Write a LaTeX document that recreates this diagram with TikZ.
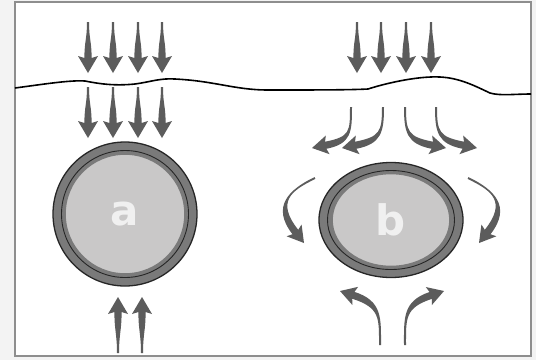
\documentclass[tikz,border=0pt]{standalone}
\usepackage{fontspec}
\setsansfont{DejaVu Sans}
\usetikzlibrary{shapes.geometric}
\definecolor{arrowgray}{HTML}{5C5C5C}
\definecolor{ringgray}{HTML}{7A7A7A}
\definecolor{fillgray}{HTML}{C9C8C8}
\definecolor{framegray}{HTML}{8E8E8E}
\definecolor{outergray}{HTML}{F3F3F3}
\tikzset{
  flowfill/.style={fill=arrowgray},
  ringouter/.style={fill=ringgray, draw=black!85, line width=1.3pt},
  ringline/.style={draw=black!85, line width=0.9pt},
  core/.style={fill=fillgray, draw=ringgray, line width=1.6pt},
  letter/.style={text=white!94!black, font=\sffamily\bfseries\fontsize{42}{42}\selectfont}
}
% tapered arrow along a cubic curve: start, control 1, control 2, tip
\newcommand{\tpArrow}[8]{%
  \pgfmathsetmacro\tpAx{#3-#1}\pgfmathsetmacro\tpAy{#4-#2}%
  \pgfmathsetmacro\tpAl{veclen(\tpAx,\tpAy)}%
  \pgfmathsetmacro\tpNax{-\tpAy/\tpAl}\pgfmathsetmacro\tpNay{\tpAx/\tpAl}%
  \pgfmathsetmacro\tpBx{#7-#5}\pgfmathsetmacro\tpBy{#8-#6}%
  \pgfmathsetmacro\tpBl{veclen(\tpBx,\tpBy)}%
  \pgfmathsetmacro\tpUx{\tpBx/\tpBl}\pgfmathsetmacro\tpUy{\tpBy/\tpBl}%
  \pgfmathsetmacro\tpNbx{-\tpUy}\pgfmathsetmacro\tpNby{\tpUx}%
  \pgfmathsetmacro\tpHx{#7-\tpHL*\tpUx}\pgfmathsetmacro\tpHy{#8-\tpHL*\tpUy}%
  \pgfmathsetmacro\tpCx{#5-\tpHL*\tpUx}\pgfmathsetmacro\tpCy{#6-\tpHL*\tpUy}%
  \fill[flowfill]
    ({#1+\tpWa*\tpNax},{#2+\tpWa*\tpNay})
    .. controls ({#3+\tpWa*\tpNax},{#4+\tpWa*\tpNay})
    and ({\tpCx+\tpWb*\tpNbx},{\tpCy+\tpWb*\tpNby})
    .. ({\tpHx+\tpWb*\tpNbx},{\tpHy+\tpWb*\tpNby})
    -- ({\tpHx+\tpHW*\tpNbx-2*\tpUx},{\tpHy+\tpHW*\tpNby-2*\tpUy})
    -- (#7,#8)
    -- ({\tpHx-\tpHW*\tpNbx-2*\tpUx},{\tpHy-\tpHW*\tpNby-2*\tpUy})
    -- ({\tpHx-\tpWb*\tpNbx},{\tpHy-\tpWb*\tpNby})
    .. controls ({\tpCx-\tpWb*\tpNbx},{\tpCy-\tpWb*\tpNby})
    and ({#3-\tpWa*\tpNax},{#4-\tpWa*\tpNay})
    .. ({#1-\tpWa*\tpNax},{#2-\tpWa*\tpNay}) -- cycle;%
}
\newcommand{\tpDown}[3]{% x, top, tip (straight)
  \pgfmathsetmacro\tpMa{#2+(#3-#2)/3}\pgfmathsetmacro\tpMb{#2+2*(#3-#2)/3}%
  \tpArrow{#1}{#2}{#1}{\tpMa}{#1}{\tpMb}{#1}{#3}}
\def\tpHL{15}\def\tpHW{10}\def\tpWa{1}\def\tpWb{3.6}
\begin{document}
\begin{tikzpicture}[x=1pt,y=-1pt]
\useasboundingbox (0,0) rectangle (536,360);
\fill[outergray] (0,0) rectangle (536,360);
\draw[framegray, fill=white, line width=2pt] (15,2) rectangle (531,356);
% surface line
\draw[black, line width=1.6pt]
  (15,88) .. controls (45,84) and (70,80) .. (85,81)
  .. controls (100,84) and (115,86) .. (135,84)
  .. controls (150,82) and (160,78) .. (175,79)
  .. controls (215,81) and (235,90) .. (268,90)
  .. controls (310,90) and (350,90) .. (368,89)
  .. controls (390,82) and (420,76) .. (440,77)
  .. controls (460,78) and (475,86) .. (490,93)
  .. controls (500,96) and (515,94) .. (531,94);
% left side: straight arrows
\foreach \x in {88,113,138,162} {
  \tpDown{\x}{22}{73}
  \tpDown{\x}{87}{138}
}
\foreach \x in {118,142} {
  \tpDown{\x}{353}{297}
}
% circle a
\draw[ringouter] (125,214) circle (72);
\draw[ringline] (125,214) circle (63.5);
\node[circle, core, minimum size=120pt, inner sep=0pt, letter] (a) at (125,214) {a};
% right side: top straight arrows
\foreach \x in {357,381,406,431} {
  \tpDown{\x}{22}{73}
}
% curved diverging arrows
\def\tpHW{9.5}\def\tpHL{14}
\tpArrow{351}{107}{351}{132}{337}{143}{312}{148}
\tpArrow{383}{107}{383}{132}{367}{143}{342}{148}
\tpArrow{405}{107}{405}{132}{421}{143}{446}{148}
\tpArrow{436}{107}{436}{132}{452}{143}{477}{148}
% ellipse b
\draw[ringouter] (391,220) ellipse (72 and 57.5);
\draw[ringline] (391,220) ellipse (63.5 and 49.5);
\node[ellipse, core, minimum width=118pt, minimum height=93pt, inner sep=0pt, letter] (b) at (391,220) {b};
% side arrows
\tpArrow{315}{178}{290}{190}{282}{215}{304}{243}
\tpArrow{468}{178}{493}{190}{501}{215}{479}{243}
% bottom arrows
\tpArrow{380}{345}{380}{318}{368}{300}{340}{291}
\tpArrow{405}{345}{405}{318}{417}{300}{444}{291}
\end{tikzpicture}
\end{document}
